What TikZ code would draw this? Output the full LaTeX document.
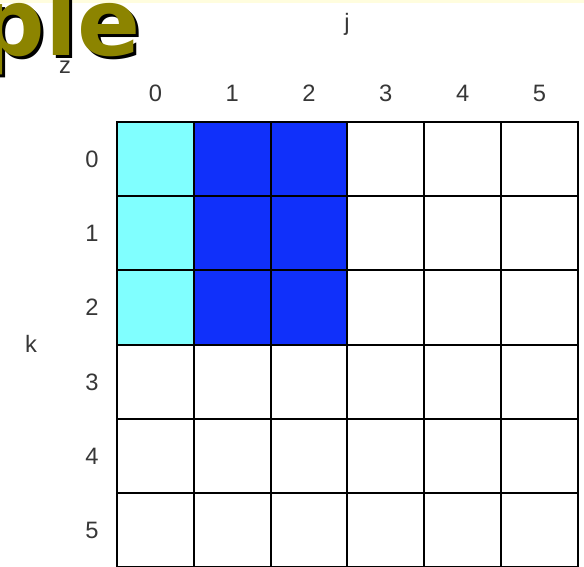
\documentclass[tikz,border=0pt]{standalone}
\usepackage{fontspec}
\setmainfont{Liberation Sans}
\newfontfamily\titlefont{DejaVu Sans}
\usepackage{tikz}

\definecolor{olivetitle}{RGB}{140,132,0}
\definecolor{lightcell}{RGB}{128,255,255}
\definecolor{darkcell}{RGB}{16,48,250}
\definecolor{labelgray}{RGB}{55,55,55}
\definecolor{stripyellow}{RGB}{255,253,222}

\begin{document}
\begin{tikzpicture}[x=0.02cm, y=-0.02cm,
    cell/.style={draw, line width=1.2pt, inner sep=0pt, outer sep=0pt,
                 minimum width=1.536cm, minimum height=1.484cm},
    lab/.style={anchor=base, inner sep=0pt, text=labelgray,
                font=\fontsize{13.5}{13.5}\selectfont},
    titletext/.style={anchor=base east, inner sep=0pt,
                      font=\titlefont\bfseries\fontsize{53}{53}\selectfont}]
    \useasboundingbox (0,0) rectangle (584,566);
    \fill[stripyellow] (0,0) rectangle (584,3);
    % Title
    \node[titletext, text=black] (title-shadow) at (144,58) {ple};
    \node[titletext, text=olivetitle] (title) at (141,55) {ple};
    % Cells
    \foreach \r in {0,...,5}
        \foreach \c in {0,...,5} {
            \def\cellfill{white}
            \ifnum\r<3
                \ifnum\c=0 \def\cellfill{lightcell}\fi
                \ifnum\c>0 \ifnum\c<3 \def\cellfill{darkcell}\fi\fi
            \fi
            \node[cell, fill=\cellfill] (c-\r-\c) at ({155.4+76.8*\c},{159.1+74.2*\r}) {};
        }
    % Labels
    \foreach \c in {0,...,5}
        \node[lab] (col-\c) at ({155.4+76.8*\c},101) {\c};
    \foreach \r in {0,...,5}
        \node[lab] (row-\r) at (92,{167.4+74.2*\r}) {\r};
    \node[lab] (j) at (347,30) {j};
    \node[lab] (k) at (31,352) {k};
    \node[lab] (z) at (65,73) {z};
\end{tikzpicture}
\end{document}
